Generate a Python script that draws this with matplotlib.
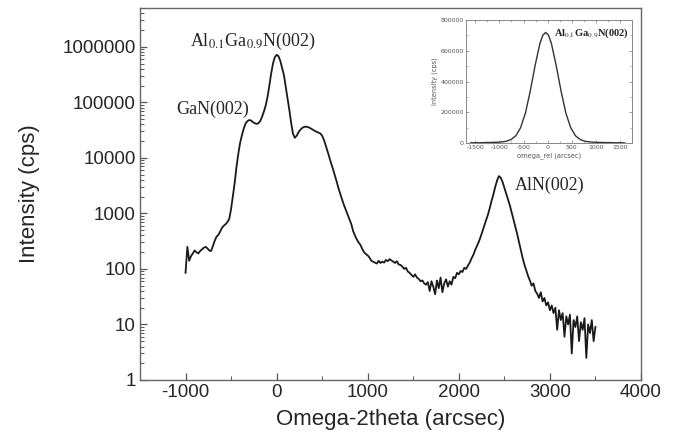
import numpy as np
import matplotlib
matplotlib.use('Agg')
import matplotlib.pyplot as plt
from matplotlib.ticker import FixedLocator, LogLocator, NullFormatter, MultipleLocator

plt.rcParams['axes.unicode_minus'] = False

# omega-2theta scan, step 20 arcsec from -1000 to 3500
omega_2theta = np.arange(-1000, 3501, 20)
intensity = [
    85, 250, 140, 170, 190, 215, 200, 190, 210, 225,
    240, 250, 235, 215, 210, 260, 320, 380, 410, 470,
    550, 600, 640, 700, 800, 1200, 2100, 3600, 7000, 12000,
    19000, 26000, 34000, 42000, 46000, 48000, 47000, 44000, 42000, 41000,
    42000, 46000, 55000, 68000, 88000, 125000, 200000, 330000, 500000, 650000,
    717000, 680000, 560000, 420000, 310000, 190000, 120000, 72000, 42000, 27000,
    23000, 25000, 29000, 32000, 34500, 36000, 36500, 36000, 35000, 33500,
    32000, 30500, 29500, 28500, 27500, 25000, 21000, 16500, 13000, 10000,
    7800, 6200, 4800, 3700, 2800, 2200, 1750, 1400, 1150, 940,
    780, 640, 480, 400, 340, 300, 270, 230, 200, 185,
    175, 160, 140, 135, 130, 125, 140, 128, 135, 130,
    145, 138, 150, 142, 135, 128, 138, 120, 118, 110,
    100, 105, 90, 85, 78, 72, 80, 70, 66, 60,
    62, 55, 52, 58, 40, 60, 48, 35, 62, 45,
    70, 38, 55, 65, 48, 60, 52, 72, 68, 85,
    80, 92, 88, 105, 100, 115, 130, 155, 180, 220,
    260, 310, 380, 480, 600, 760, 950, 1250, 1700, 2200,
    3000, 3900, 4700, 4400, 3700, 2900, 2300, 1800, 1400, 1050,
    780, 580, 430, 310, 220, 160, 120, 95, 75, 62,
    50, 55, 40, 36, 30, 38, 26, 30, 22, 25,
    18, 22, 16, 20, 8, 18, 12, 16, 6, 14,
    10, 15, 3, 12, 9, 14, 5, 11, 8, 13,
    2.5, 10, 7, 12, 5, 9,
]

# inset: omega rocking curve of the AlGaN peak
omega_rel = [-1600, -1400, -1200, -1000, -860, -760, -660, -560, -460, -360,
             -260, -160, -100, -40, 20, 80, 180, 280, 380, 480,
             580, 680, 780, 900, 1000, 1200, 1400, 1600]
rock_int = [800, 1800, 3200, 5500, 11000, 22000, 47000, 100000, 195000, 338000,
            503000, 647000, 701000, 720000, 701000, 647000, 503000, 338000, 195000, 100000,
            47000, 22000, 11000, 6000, 4500, 2800, 1500, 800]

y_ticks = [1, 10, 100, 1000, 10000, 100000, 1000000]
x_ticks = [-1000, 0, 1000, 2000, 3000, 4000]

serif = ['Liberation Serif', 'DejaVu Serif']
sans = ['Liberation Sans', 'DejaVu Sans']
txt_col = '#262626'

fig = plt.figure(figsize=(6.75, 4.42), dpi=100)
ax = fig.add_axes([0.2074, 0.1403, 0.7422, 0.8416])

ax.plot(omega_2theta, intensity, color='#1a1a1a', lw=1.3)
ax.set_yscale('log')
ax.set_xlim(-1500, 4000)
ax.set_ylim(1, 5e6)

ax.yaxis.set_major_locator(FixedLocator(y_ticks))
ax.set_yticklabels([str(v) for v in y_ticks])
ax.yaxis.set_minor_locator(LogLocator(base=10, subs=np.arange(2, 10)))
ax.yaxis.set_minor_formatter(NullFormatter())
ax.xaxis.set_major_locator(FixedLocator(x_ticks))
ax.xaxis.set_minor_locator(MultipleLocator(500))

ax.tick_params(which='both', direction='in', top=False, right=False,
               colors='#555555', labelcolor=txt_col)
ax.tick_params(which='major', length=5, width=0.9, labelsize=13.5, pad=3)
ax.tick_params(which='minor', length=3, width=0.7)
for lab in ax.get_xticklabels() + ax.get_yticklabels():
    lab.set_family(sans)
for s in ax.spines.values():
    s.set_color('#666666')
    s.set_linewidth(1.0)

ax.set_xlabel('Omega-2theta (arcsec)', fontsize=16, family=sans, color=txt_col, labelpad=6)
ax.set_ylabel('Intensity (cps)', fontsize=16, family=sans, color=txt_col, labelpad=16)

ax.text(-263, 1.25e6, r'Al$_{0.1}$Ga$_{0.9}$N(002)', fontsize=13, family=serif,
        ha='center', va='center', color=txt_col, math_fontfamily='stix')
ax.text(-300, 7.5e4, 'GaN(002)', fontsize=13, family=serif,
        ha='right', va='center', color=txt_col)
ax.text(2620, 3200, 'AlN(002)', fontsize=13, family=serif,
        ha='left', va='center', color=txt_col)

# inset
ins = fig.add_axes([0.690, 0.6765, 0.246, 0.278])
ins.plot(omega_rel, rock_int, color='#333333', lw=1.0)
ins.set_xlim(-1700, 1750)
ins.set_ylim(0, 800000)
ins.xaxis.set_major_locator(FixedLocator([-1500, -1000, -500, 0, 500, 1000, 1500]))
ins.yaxis.set_major_locator(FixedLocator([0, 200000, 400000, 600000, 800000]))
ins.yaxis.set_minor_locator(MultipleLocator(100000))
ins.xaxis.set_minor_locator(MultipleLocator(250))
ins.tick_params(which='both', direction='in', top=True, right=True,
                colors='#777777', labelcolor='#555555', labelsize=4.5, pad=1.5)
ins.tick_params(which='major', length=2.5, width=0.5)
ins.tick_params(which='minor', length=1.5, width=0.4)
for s in ins.spines.values():
    s.set_color('#888888')
    s.set_linewidth(0.7)
ins.set_xlabel('omega_rel (arcsec)', fontsize=4.8, color='#555555', labelpad=1.5)
ins.set_ylabel('Intensity (cps)', fontsize=4.8, color='#555555', labelpad=2)
ins.text(140, 715000, r'Al$_{0.1}$Ga$_{0.9}$N(002)', fontsize=7.5, family=serif,
         fontweight='bold', ha='left', va='center', color='#222222',
         math_fontfamily='stix')

fig.savefig('out.png', dpi=100)
